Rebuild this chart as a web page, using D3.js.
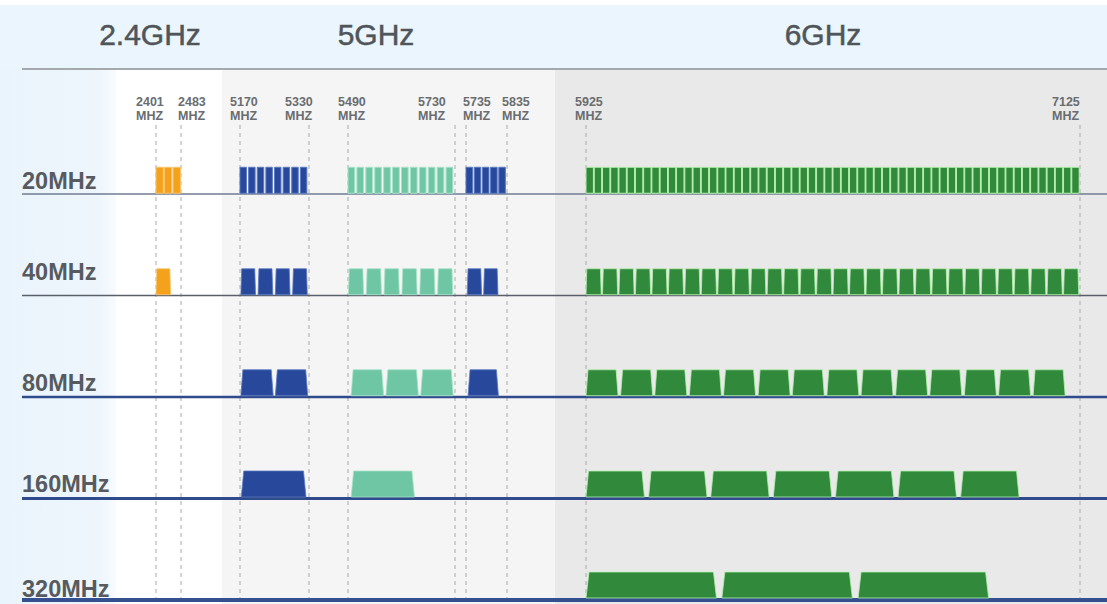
<!DOCTYPE html>
<html>
<head>
<meta charset="utf-8">
<script src="https://cdn.jsdelivr.net/npm/d3@7/dist/d3.min.js"></script>
<style>
  html, body { margin: 0; padding: 0; background: #ffffff; }
  svg { display: block; }
</style>
</head>
<body>
<svg id="chart" width="1107" height="604"></svg>
<script>
// ---------------- DATA ----------------
const bandNames = ["2.4GHz", "5GHz", "6GHz"];
const rowLabels = ["20MHz", "40MHz", "80MHz", "160MHz", "320MHz"];
const tickFreqs = [2401, 2483, 5170, 5330, 5490, 5730, 5735, 5835, 5925, 7125];
const tickUnit = "MHZ";

// channel lower edges (MHz) and visual span (MHz), per row and sub-band
const ch20_24   = [2401, 2429, 2457];
const ch20_u1   = [5170, 5190, 5210, 5230, 5250, 5270, 5290, 5310];
const ch20_u2c  = [5490, 5510, 5530, 5550, 5570, 5590, 5610, 5630, 5650, 5670, 5690, 5710];
const ch20_u3   = [5735, 5755, 5775, 5795, 5815];
const ch20_6g   = [5925, 5945, 5965, 5985, 6005, 6025, 6045, 6065, 6085, 6105,
                   6125, 6145, 6165, 6185, 6205, 6225, 6245, 6265, 6285, 6305,
                   6325, 6345, 6365, 6385, 6405, 6425, 6445, 6465, 6485, 6505,
                   6525, 6545, 6565, 6585, 6605, 6625, 6645, 6665, 6685, 6705,
                   6725, 6745, 6765, 6785, 6805, 6825, 6845, 6865, 6885, 6905,
                   6925, 6945, 6965, 6985, 7005, 7025, 7045, 7065, 7085, 7105];

const ch40_24   = [2401];
const ch40_u1   = [5172, 5212, 5252, 5292];
const ch40_u2c  = [5491, 5531, 5571, 5611, 5651, 5691];
const ch40_u3   = [5738, 5778];
const ch40_6g   = [5925, 5965, 6005, 6045, 6085, 6125, 6165, 6205, 6245, 6285,
                   6325, 6365, 6405, 6445, 6485, 6525, 6565, 6605, 6645, 6685,
                   6725, 6765, 6805, 6845, 6885, 6925, 6965, 7005, 7045, 7085];

const ch80_u1   = [5172, 5252];
const ch80_u2c  = [5497, 5575, 5653];
const ch80_u3   = [5740];
const ch80_6g   = [5925, 6009, 6092, 6176, 6259, 6343, 6426, 6510, 6593, 6677, 6760, 6844, 6927, 7011];

const ch160_u1  = [5173];
const ch160_u2c = [5497];
const ch160_6g  = [5925, 6077, 6228, 6380, 6531, 6683, 6835];

const ch320_6g  = [5925, 6255, 6586];

// groups: [row, sub-band, lower edges, visual span MHz]
const channelGroups = [
  ["20MHz", "24", ch20_24, 24], ["20MHz", "u1", ch20_u1, 15], ["20MHz", "u2c", ch20_u2c, 15],
  ["20MHz", "u3", ch20_u3, 16], ["20MHz", "6g", ch20_6g, 18],
  ["40MHz", "24", ch40_24, 48], ["40MHz", "u1", ch40_u1, 34], ["40MHz", "u2c", ch40_u2c, 34],
  ["40MHz", "u3", ch40_u3, 35], ["40MHz", "6g", ch40_6g, 37],
  ["80MHz", "u1", ch80_u1, 75], ["80MHz", "u2c", ch80_u2c, 73], ["80MHz", "u3", ch80_u3, 74],
  ["80MHz", "6g", ch80_6g, 78],
  ["160MHz", "u1", ch160_u1, 150], ["160MHz", "u2c", ch160_u2c, 142], ["160MHz", "6g", ch160_6g, 142],
  ["320MHz", "6g", ch320_6g, 317]
];

// ---------------- LAYOUT / STYLE ----------------
const W = 1107, H = 604;
const svg = d3.select("#chart");
const font = "'Liberation Sans', Arial, sans-serif";

// piecewise frequency -> x scale (illustration is not linear across bands)
const x = d3.scaleLinear()
  .domain(tickFreqs)
  .range([156, 181, 240, 309, 348, 455, 466, 507, 586, 1080]);

const y = d3.scalePoint().domain(rowLabels).range([194, 600]);

const colors = { "24": "#f4a21c", "u1": "#27489b", "u2c": "#6fc6a5", "u3": "#27489b", "6g": "#318a3c" };
const edgeColors = { "24": "#f8c36a", "u1": "#5a79c2", "u2c": "#a6e2c8", "u3": "#5a79c2", "6g": "#b4f0ac" };
const rowLine = {
  "20MHz":  { c: "#6f7c92", w: 1.5 },
  "40MHz":  { c: "#59606c", w: 1.5 },
  "80MHz":  { c: "#2f4b8c", w: 2.5 },
  "160MHz": { c: "#2f4b8c", w: 3 },
  "320MHz": { c: "#34508f", w: 4 }
};
const rowLabelDy = { "20MHz": -5, "40MHz": -16, "80MHz": -6, "160MHz": -7, "320MHz": -3 };
const rowInset = { "20MHz": 0, "40MHz": 0.8, "80MHz": 2, "160MHz": 2.5, "320MHz": 3 };
const barH = 26;

// ---------------- BACKGROUND ----------------
const defs = svg.append("defs");
const lg = defs.append("linearGradient").attr("id", "leftGrad").attr("x1", 0).attr("x2", 1);
lg.append("stop").attr("offset", "0%").attr("stop-color", "#eaf4fc");
lg.append("stop").attr("offset", "85%").attr("stop-color", "#eef6fc");
lg.append("stop").attr("offset", "100%").attr("stop-color", "#f8fbfe");

svg.append("rect").attr("x", 0).attr("y", 0).attr("width", W).attr("height", H).attr("fill", "#ffffff");
svg.append("rect").attr("x", 0).attr("y", 5).attr("width", W).attr("height", 65).attr("fill", "#eaf5fd");
svg.append("rect").attr("x", 0).attr("y", 70).attr("width", 116).attr("height", H - 70).attr("fill", "url(#leftGrad)");
svg.append("rect").attr("x", 116).attr("y", 70).attr("width", 106).attr("height", H - 70).attr("fill", "#ffffff");
svg.append("rect").attr("x", 222).attr("y", 70).attr("width", 333).attr("height", H - 70).attr("fill", "#f5f5f5");
svg.append("rect").attr("x", 555).attr("y", 70).attr("width", W - 555).attr("height", H - 70).attr("fill", "#e9e9e9");

svg.append("line").attr("x1", 22).attr("x2", W).attr("y1", 69).attr("y2", 69)
  .attr("stroke", "#a3a9ad").attr("stroke-width", 2);

// band headers
const bandX = [150, 376, 823];
svg.selectAll("text.band").data(bandNames).join("text")
  .attr("class", "band")
  .attr("x", (d, i) => bandX[i]).attr("y", 45)
  .attr("text-anchor", "middle")
  .attr("font-family", font).attr("font-size", 30)
  .attr("fill", "#50555a").attr("stroke", "#50555a").attr("stroke-width", 0.5)
  .text(d => d);

// ---------------- FREQUENCY TICKS ----------------
const tickDx = [-20, -3, -10, -24, -10, -37, -3, -5, -11, -28];
svg.selectAll("line.tick").data(tickFreqs).join("line")
  .attr("class", "tick")
  .attr("x1", d => x(d)).attr("x2", d => x(d))
  .attr("y1", 125).attr("y2", H)
  .attr("stroke", "#a9a9a9").attr("stroke-width", 1).attr("stroke-dasharray", "4,4");

const tl = svg.selectAll("g.tlabel").data(tickFreqs).join("g").attr("class", "tlabel")
  .attr("transform", (d, i) => `translate(${x(d) + tickDx[i]},0)`);
tl.append("text").attr("y", 106).text(d => d);
tl.append("text").attr("y", 120).text(tickUnit);
tl.selectAll("text").attr("font-family", font).attr("font-size", 12.5)
  .attr("font-weight", "bold").attr("fill", "#6a6d70");

// ---------------- ROWS ----------------
svg.selectAll("line.base").data(rowLabels).join("line")
  .attr("class", "base")
  .attr("x1", 22).attr("x2", W)
  .attr("y1", d => y(d)).attr("y2", d => y(d))
  .attr("stroke", d => rowLine[d].c).attr("stroke-width", d => rowLine[d].w);

svg.selectAll("text.row").data(rowLabels).join("text")
  .attr("class", "row")
  .attr("x", 22).attr("y", d => y(d) + rowLabelDy[d])
  .attr("font-family", font).attr("font-size", 23.5).attr("font-weight", "bold")
  .attr("fill", "#575b60")
  .text(d => d);

// ---------------- CHANNEL BARS ----------------
const bars = [];
channelGroups.forEach(([row, band, edges, span]) => {
  edges.forEach(lo => bars.push({ row, band, lo, hi: lo + span }));
});

function trap(d) {
  const yb = y(d.row) - rowLine[d.row].w / 2, yt = yb - barH;
  const x0 = x(d.lo), x1 = x(d.hi), k = rowInset[d.row];
  return `M${x0},${yb}L${x0 + k},${yt}L${x1 - k},${yt}L${x1},${yb}Z`;
}

svg.append("g").selectAll("path").data(bars).join("path")
  .attr("d", trap)
  .attr("fill", d => colors[d.band])
  .attr("stroke", d => edgeColors[d.band])
  .attr("stroke-width", d => d.row === "20MHz" ? 1 : 0.8);
</script>
</body>
</html>
